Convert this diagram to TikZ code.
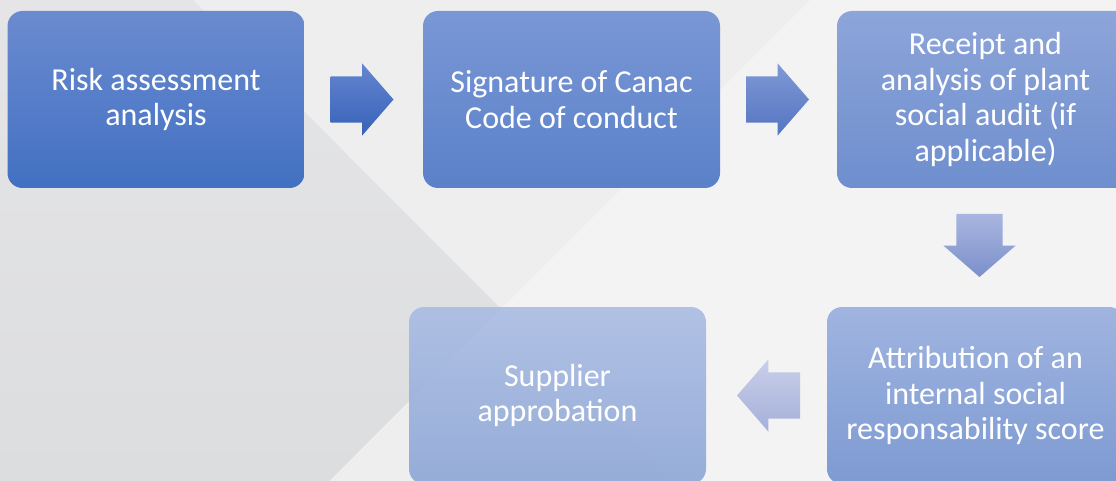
\documentclass[tikz,border=0pt]{standalone}
\usepackage{fontspec}
\setmainfont{Carlito}
\usepackage{tikz}
\usepackage{xcolor}
\usetikzlibrary{shapes,shapes.arrows}
\usetikzlibrary{calc,positioning}

\definecolor{bgbase}{HTML}{EEEEEF}
\definecolor{bglight}{HTML}{F3F3F4}
\definecolor{bgdarktop}{HTML}{E5E5E7}
\definecolor{bgdark}{HTML}{DCDDDF}
% step colours, top and bottom
\definecolor{riskA}{HTML}{6B8BD0}
\definecolor{riskB}{HTML}{4270C2}
\definecolor{signA}{HTML}{7A97D5}
\definecolor{signB}{HTML}{5A81C9}
\definecolor{auditA}{HTML}{8DA5D9}
\definecolor{auditB}{HTML}{6E8ECE}
\definecolor{scoreA}{HTML}{A0B4E0}
\definecolor{scoreB}{HTML}{7D9AD2}
\definecolor{approbA}{HTML}{AABCE3}
\definecolor{approbB}{HTML}{8CA6D6}
% arrow colours
\definecolor{arrA}{HTML}{6486D0}
\definecolor{arrB}{HTML}{3761B8}
\definecolor{arrC}{HTML}{7F99D6}
\definecolor{arrD}{HTML}{5575C2}
\definecolor{arrE}{HTML}{A8B6DF}
\definecolor{arrF}{HTML}{7C8FCB}
\definecolor{arrG}{HTML}{C9CFEA}
\definecolor{arrH}{HTML}{A5B0D9}

\tikzset{
	stepbox/.style={rounded corners=15pt, minimum width=297pt, minimum height=177pt,
		inner sep=0pt, outer sep=0pt, align=center, text=white,
		font=\fontsize{32}{35.5}\selectfont},
	blockarrow/.style={single arrow, minimum height=63pt, minimum width=72pt,
		single arrow head extend=13pt, single arrow tip angle=98,
		inner xsep=0pt, inner ysep=23pt, outer sep=0pt, anchor=tail}
}

\begin{document}
\begin{tikzpicture}[x=1pt,y=-1pt]
	\useasboundingbox (0,0) rectangle (1116,481);
	\clip (0,0) rectangle (1116,481);
	% background
	\fill[bgbase] (0,0) rectangle (1116,481);
	\fill[bglight] (501,309) -- (810,0) -- (1116,0) -- (1116,481) -- (673,481) -- cycle;
	\shade[top color=bgdarktop, bottom color=bgdark] (0,0) -- (193,0) -- (501,309) -- (329,481) -- (0,481) -- cycle;
	% steps
	\node[stepbox, top color=riskA, bottom color=riskB] (risk) at (156,99.5) {Risk assessment\\analysis};
	\node[stepbox, top color=signA, bottom color=signB] (sign) at (571.5,99.5) {Signature of Canac\\Code of conduct};
	\node[stepbox, top color=auditA, bottom color=auditB] (audit) at (985.5,99.5) {Receipt and\\analysis of plant\\social audit (if\\applicable)};
	\node[stepbox, top color=scoreA, bottom color=scoreB] (score) at (975.5,395.5) {Attribution of an\\internal social\\responsability score};
	\node[stepbox, fill opacity=.9, text opacity=1, top color=approbA, bottom color=approbB] (approb) at (557.5,395.5) {Supplier\\approbation};
	% arrows
	\node[blockarrow, top color=arrA, bottom color=arrB] (a1) at ([xshift=26pt]risk.east) {};
	\node[blockarrow, top color=arrC, bottom color=arrD] (a2) at ([xshift=26pt]sign.east) {};
	\node[blockarrow, inner xsep=23pt, inner ysep=0pt, shape border rotate=270, top color=arrE, bottom color=arrF] (a3) at ([xshift=-6pt,yshift=-26pt]audit.south) {};
	\node[blockarrow, shape border rotate=180, top color=arrG, bottom color=arrH] (a4) at ([xshift=-27pt]score.west) {};
\end{tikzpicture}
\end{document}
